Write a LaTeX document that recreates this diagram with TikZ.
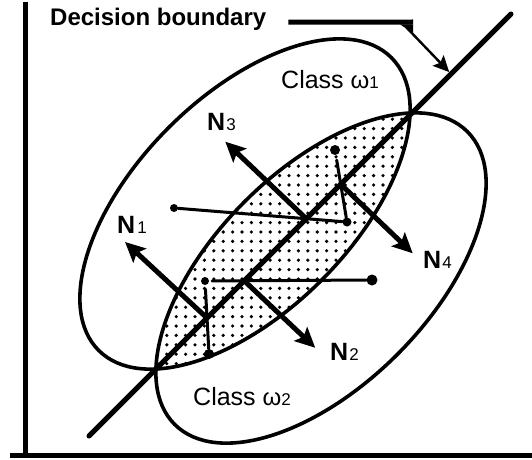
\documentclass[tikz,border=0pt]{standalone}
\usepackage{fontspec}
\setmainfont{Liberation Sans}
\usetikzlibrary{arrows.meta,calc}
\newcommand{\dbsub}[1]{{\fontsize{17}{20}\selectfont\mdseries #1}}
\newcommand{\dbomega}[1]{{\fontsize{24}{28}\selectfont ω}\dbsub{#1}}
\tikzset{
  db diagram/.style={x=1pt, y=1pt, line cap=round, line join=round},
  db axis/.style={line width=5pt, line cap=butt},
  db class/.style={line width=3.6pt},
  db boundary/.style={line width=5pt},
  db link/.style={line width=3pt},
  db normal/.style={line width=5pt, -{Stealth[length=20pt,width=19pt,inset=4pt]}},
  db leader/.style={line width=2.4pt, -{Stealth[length=16pt,width=15pt,inset=3pt]}},
  db point/.style={circle, fill=black, inner sep=0pt},
  db title/.style={font=\fontsize{24}{28}\selectfont\bfseries, inner sep=0pt},
  db class label/.style={font=\fontsize{25}{30}\selectfont, inner sep=0pt},
  db normal label/.style={font=\fontsize{25}{30}\selectfont\bfseries, inner sep=0pt}
}
\begin{document}
\begin{tikzpicture}[db diagram]
\useasboundingbox (0,0) rectangle (532,459);
% axes
\draw[db axis] (25,457) -- (25,2);
\draw[db axis] (10,4) -- (532,4);
% dotted overlap of the two classes
\begin{scope}
  \clip (245,255) ellipse [x radius=207, y radius=108, rotate=45];
  \clip (321,181) ellipse [x radius=207, y radius=108, rotate=45];
  \foreach \i in {0,...,28}
    \foreach \j in {0,...,28}
      \fill (148+9.4*\i, 86+9.4*\j) circle (1.8);
\end{scope}
% the two classes
\draw[db class] (245,255) ellipse [x radius=207, y radius=108, rotate=45];
\draw[db class] (321,181) ellipse [x radius=207, y radius=108, rotate=45];
% decision boundary
\coordinate (dblo) at (89,23);
\coordinate (dbhi) at (511,445);
\draw[db boundary] (dblo) -- (dbhi);
% points
\node[db point, minimum size=8pt] (p1) at (174,251) {};
\node[db point, minimum size=10pt] (p2) at (335,309) {};
\node[db point, minimum size=9pt] (p3) at (347,237) {};
\node[db point, minimum size=11pt] (p4) at (372,179) {};
\node[db point, minimum size=8pt] (p5) at (205,178) {};
\node[db point, minimum size=10pt] (p6) at (209,105) {};
\draw[db link] (p1) -- (p3);
\draw[db link, shorten >=5pt] (p3) -- (p2);
\draw[db link, shorten <=3pt] (p5) -- (p4);
\draw[db link, shorten <=4pt] (p5) -- (p6);
% normals
\coordinate (f1) at (intersection of p5--p6 and dblo--dbhi);
\coordinate (f2) at (intersection of p5--p4 and dblo--dbhi);
\coordinate (f3) at (intersection of p1--p3 and dblo--dbhi);
\coordinate (f4) at (intersection of p3--p2 and dblo--dbhi);
\draw[db normal] (f1) -- ++(-82,76) coordinate (t1);
\draw[db normal] (f2) -- ++(71,-67) coordinate (t2);
\draw[db normal] (f3) -- ++(-81,77) coordinate (t3);
\draw[db normal] (f4) -- ++(72,-69) coordinate (t4);
\node[db normal label, anchor=base west] (n1) at (117,226) {N\kern2pt\dbsub{1}};
\node[db normal label, anchor=base west] (n2) at (330,99) {N\kern1pt\dbsub{2}};
\node[db normal label, anchor=base west] (n3) at (207,329) {N\kern1pt\dbsub{3}};
\node[db normal label, anchor=base west] (n4) at (423,191) {N\kern1pt\dbsub{4}};
% class labels
\node[db class label, anchor=base west] (c1) at (281,371) {Class \dbomega{1}};
\node[db class label, anchor=base west] (c2) at (193,54) {Class \dbomega{2}};
% title and leader
\node[db title, anchor=base west] (dbtitle) at (50,433) {Decision boundary};
\coordinate (elbow) at (413,437);
\coordinate (dbtip) at ($(dblo)!0.858!(dbhi)+(-1.8,1.8)$);
\draw[line width=5pt, line cap=butt] (dbtitle.east) ++(22,-2.3) -- (elbow);
\fill ([shift={(-13,-2.4)}]elbow) -- ([shift={(0,-2.4)}]elbow) -- ([shift={(0,-11)}]elbow) -- cycle;
\draw[db leader] ([shift={(-7,-5)}]elbow) -- (dbtip);
\end{tikzpicture}
\end{document}
